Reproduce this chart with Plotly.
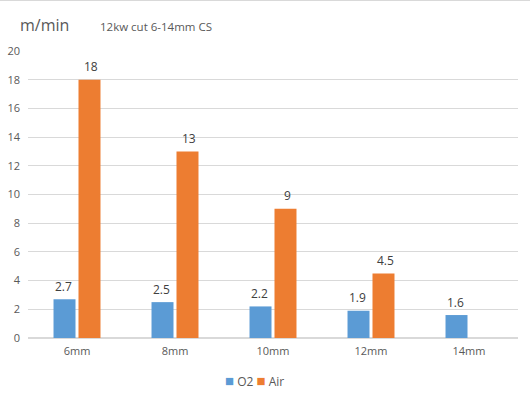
import plotly.graph_objects as go

categories = ["6mm", "8mm", "10mm", "12mm", "14mm"]
o2_values = [2.7, 2.5, 2.2, 1.9, 1.6]
air_values = [18, 13, 9, 4.5, None]
y_ticks = [0, 2, 4, 6, 8, 10, 12, 14, 16, 18, 20]

blue = "#5B9BD5"
orange = "#ED7D31"
font_family = "Open Sans, Liberation Sans, sans-serif"

W, H = 530, 399
ML, MR, MT, MB = 28, 12, 51, 61
PW, PH = W - ML - MR, H - MT - MB

fig = go.Figure()
fig.add_trace(go.Bar(x=categories, y=o2_values, name="O2", marker_color=blue, marker_line_width=0))
fig.add_trace(go.Bar(x=categories, y=air_values, name="Air", marker_color=orange, marker_line_width=0))

annotations = []
for c, v in zip(categories, o2_values):
    if v is not None:
        annotations.append(dict(x=c, y=v, text=str(v), showarrow=False, xshift=-14, yshift=13,
                                font=dict(size=12, color="#404040", family=font_family)))
for c, v in zip(categories, air_values):
    if v is not None:
        annotations.append(dict(x=c, y=v, text=str(v), showarrow=False, xshift=14, yshift=13,
                                font=dict(size=12, color="#404040", family=font_family)))

annotations.append(dict(xref="paper", yref="paper", x=(18 - ML) / PW, y=1 + (MT - 25) / PH,
                        xanchor="left", yanchor="middle", text="m/min", showarrow=False,
                        font=dict(size=16, color="#595959", family=font_family)))
annotations.append(dict(xref="paper", yref="paper", x=(98 - ML) / PW, y=1 + (MT - 26) / PH,
                        xanchor="left", yanchor="middle", text="12kw cut 6-14mm CS", showarrow=False,
                        font=dict(size=11.5, color="#595959", family=font_family)))

# legend (drawn as colored squares + labels)
legend_text = (f'<span style="color:{blue};font-size:15px">■</span> O2 '
               f'<span style="color:{orange};font-size:15px">■</span> Air')
annotations.append(dict(xref="paper", yref="paper", x=(254 - ML) / PW, y=-(380 - MT - PH) / PH,
                        xanchor="center", yanchor="middle", text=legend_text, showarrow=False,
                        font=dict(size=12, color="#595959", family=font_family)))

fig.update_layout(
    width=W, height=H,
    margin=dict(l=ML, r=MR, t=MT, b=MB, autoexpand=False),
    paper_bgcolor="white", plot_bgcolor="white",
    barmode="group", bargap=0.49, bargroupgap=0.12,
    font=dict(family=font_family, size=12, color="#595959"),
    annotations=annotations,
    showlegend=False,
    shapes=[dict(type="line", xref="paper", yref="paper", x0=-ML / PW, x1=1 + MR / PW,
                 y0=1 + (MT - 0.5) / PH, y1=1 + (MT - 0.5) / PH,
                 line=dict(color="#D9D9D9", width=1))],
)
fig.update_xaxes(showgrid=False, showline=False, ticks="", ticklabelstandoff=5,
                 tickfont=dict(size=11, color="#595959"))
fig.update_yaxes(range=[0, 20], tickvals=y_ticks, showgrid=True, gridcolor="#D9D9D9", gridwidth=1,
                 zeroline=True, zerolinecolor="#D9D9D9", showline=False, ticks="",
                 ticklabelstandoff=7, tickfont=dict(size=11, color="#595959"))

fig.write_html("out.html", config={"displayModeBar": False},
               post_script="document.body.style.margin='0';document.body.style.overflow='hidden';")
